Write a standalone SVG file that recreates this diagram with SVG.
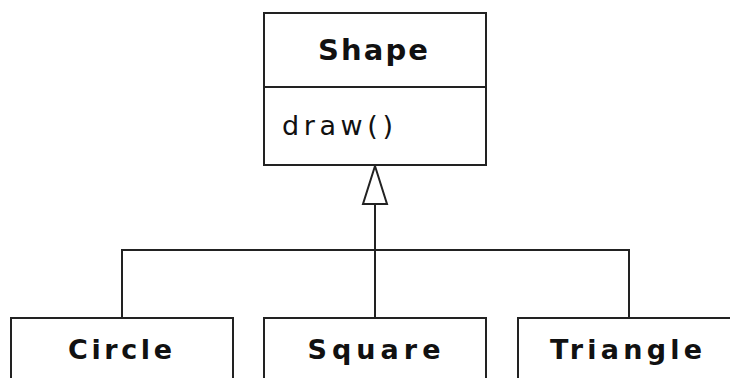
<svg xmlns="http://www.w3.org/2000/svg" width="730" height="378" viewBox="0 0 730 378">
<style>
.box{fill:#fff;stroke:#222;stroke-width:2}
.ln{fill:none;stroke:#222;stroke-width:2}
.t{font-family:"DejaVu Sans",Verdana,sans-serif;font-size:27px;fill:#111}
.b{font-weight:bold;text-anchor:middle}
.h{font-size:29px}
</style>
<rect width="730" height="378" fill="#fff"/>
<g id="connectors">
<polyline class="ln" points="122,318 122,250 629,250 629,318"/>
<line class="ln" x1="375" y1="204" x2="375" y2="318"/>
<polygon class="ln" fill="#fff" points="375,166 363,204 387,204"/>
</g>
<g id="shape">
<rect class="box" x="264" y="13" width="222" height="152"/>
<line class="ln" x1="264" y1="87" x2="486" y2="87"/>
<text class="t b h" x="373" y="60" textLength="110" lengthAdjust="spacing">Shape</text>
<text class="t" x="282" y="135" textLength="111" lengthAdjust="spacing">draw()</text>
</g>
<g id="circle">
<rect class="box" x="11" y="318" width="222" height="80"/>
<text class="t b" x="120" y="359" textLength="104" lengthAdjust="spacing">Circle</text>
</g>
<g id="square">
<rect class="box" x="264" y="318" width="222" height="80"/>
<text class="t b" x="374" y="359" textLength="133" lengthAdjust="spacing">Square</text>
</g>
<g id="triangle">
<rect class="box" x="518" y="318" width="240" height="80"/>
<text class="t b" x="626" y="359" textLength="152" lengthAdjust="spacing">Triangle</text>
</g>
</svg>
